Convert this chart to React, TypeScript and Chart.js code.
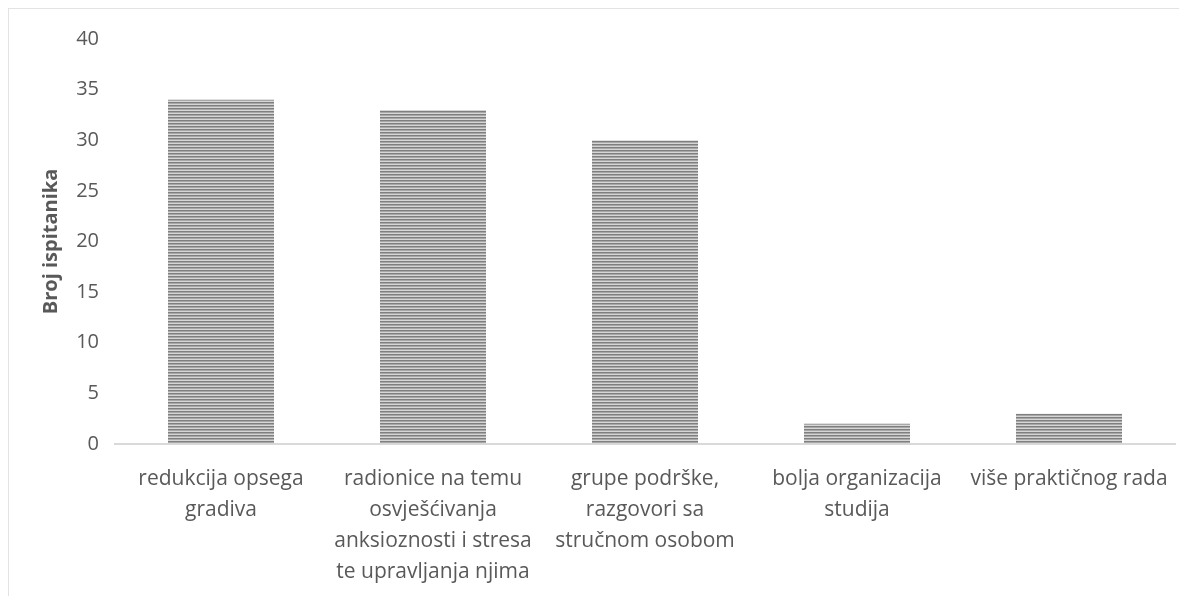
import React, { useEffect, useRef } from "react";
import { Chart, registerables } from "chart.js";

Chart.register(...registerables);

const categories: string[][] = [
  ["redukcija opsega", "gradiva"],
  ["radionice na temu", "osvješćivanja", "anksioznosti i stresa", "te upravljanja njima"],
  ["grupe podrške,", "razgovori sa", "stručnom osobom"],
  ["bolja organizacija", "studija"],
  ["više praktičnog rada"],
];
const values: number[] = [34, 33, 30, 2, 3];
const yTitle = "Broj ispitanika";
const yMin = 0;
const yMax = 40;
const yStep = 5;

function makePattern(): CanvasPattern | string {
  const c = document.createElement("canvas");
  c.width = 8;
  c.height = 3;
  const ctx = c.getContext("2d");
  if (!ctx) return "#a6a6a6";
  const rows = ["#7f7f7f", "#a8a8a8", "#d6d6d6"];
  rows.forEach((col, i) => {
    ctx.fillStyle = col;
    ctx.fillRect(0, i, 8, 1);
  });
  return ctx.createPattern(c, "repeat") || "#a6a6a6";
}

export default function App() {
  const ref = useRef<HTMLCanvasElement | null>(null);
  useEffect(() => {
    if (!ref.current) return;
    const font = "'Open Sans', 'DejaVu Sans', sans-serif";
    const chart = new Chart(ref.current, {
      type: "bar",
      data: {
        labels: categories,
        datasets: [
          {
            data: values,
            backgroundColor: makePattern() as any,
            borderWidth: 0,
            barPercentage: 0.5,
            categoryPercentage: 1,
          },
        ],
      },
      options: {
        animation: false,
        responsive: false,
        maintainAspectRatio: false,
        layout: { padding: { top: 30, right: 12, bottom: 0, left: 30 } },
        plugins: {
          legend: { display: false },
          tooltip: { enabled: false },
        },
        scales: {
          x: {
            grid: { display: false },
            border: { display: true, color: "#d9d9d9", width: 2 },
            ticks: {
              color: "#595959",
              font: { family: font, size: 21, lineHeight: 1.48 },
              padding: 11,
              maxRotation: 0,
              autoSkip: false,
            },
            afterFit: (s: any) => {
              s.height = 152;
            },
          },
          y: {
            min: yMin,
            max: yMax,
            grid: { display: false, drawTicks: false },
            border: { display: false },
            ticks: {
              stepSize: yStep,
              color: "#595959",
              font: { family: font, size: 20 },
              padding: 16,
            },
            title: {
              display: true,
              text: yTitle,
              color: "#595959",
              font: { family: font, size: 20, weight: "bold" },
              padding: { top: 0, bottom: 8 },
            },
            afterFit: (s: any) => {
              s.width = 76;
            },
          },
        },
      },
    });
    return () => chart.destroy();
  }, []);
  return (
    <div
      style={{
        width: 1179,
        height: 588,
        boxSizing: "border-box",
        borderTop: "1px solid #e3e3e3",
        borderLeft: "1px solid #e3e3e3",
        background: "#fff",
      }}
    >
      <canvas ref={ref} width={1178} height={587} style={{ display: "block" }} />
    </div>
  );
}
